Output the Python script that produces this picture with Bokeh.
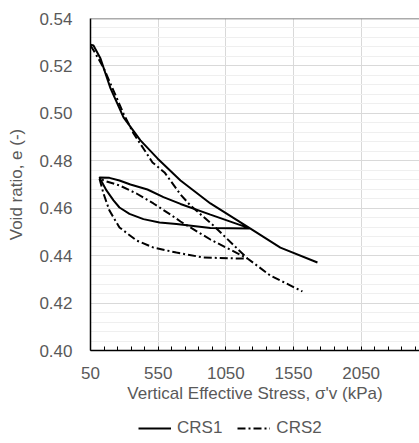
from bokeh.plotting import figure
from bokeh.layouts import column
from bokeh.models import FixedTicker, Legend, LegendItem, Range1d, CustomJSTickFormatter, Span
from bokeh.embed import file_html
from bokeh.resources import INLINE

# ---- data (stress kPa, void ratio) ----
crs1_stress = [50, 72, 124, 198, 294, 419, 545, 715, 936, 1232,
               936, 685, 560, 441, 338, 264, 220, 168, 116,
               190, 264, 345, 471, 589, 715, 936, 1232,
               1453, 1727]
crs1_void = [0.5290, 0.5286, 0.5231, 0.5105, 0.4983, 0.4886, 0.4810, 0.4717, 0.4620, 0.4514,
             0.4517, 0.4533, 0.4540, 0.4554, 0.4576, 0.4603, 0.4633, 0.4675, 0.4730,
             0.4728, 0.4717, 0.4700, 0.4679, 0.4647, 0.4618, 0.4573, 0.4514,
             0.4434, 0.4371]

crs2_stress = [50, 87, 146, 220, 294, 368, 441, 508, 597, 715, 789, 958, 1210,
               1136, 885, 685, 515, 390, 264, 190, 146, 116,
               168, 264, 390, 515, 641, 715, 936, 1210,
               1379, 1616]
crs2_void = [0.5286, 0.5252, 0.5193, 0.5096, 0.4999, 0.4915, 0.4852, 0.4793, 0.4751, 0.4658, 0.4611, 0.4527, 0.4388,
             0.4388, 0.4392, 0.4413, 0.4434, 0.4464, 0.4519, 0.4590, 0.4662, 0.4725,
             0.4713, 0.4696, 0.4662, 0.4620, 0.4573, 0.4544, 0.4468, 0.4388,
             0.4316, 0.4249]

x_ticks = [50, 550, 1050, 1550, 2050, 2550]
x_minor = [v for v in range(150, 2550, 100) if (v - 50) % 500 != 0]
y_ticks = [0.40, 0.42, 0.44, 0.46, 0.48, 0.50, 0.52, 0.54]
y_minor = [round(0.40 + 0.004 * i, 3) for i in range(36) if i % 5 != 0]

series_names = ["CRS1", "CRS2"]

FONT = "Liberation Sans"
TXT = "#595959"
FS = "17px"
DASHDOT = "8 3 2 3"

p = figure(width=419, height=415, output_backend="svg", toolbar_location=None,
           x_range=Range1d(50, 2481), y_range=Range1d(0.40, 0.54),
           min_border_left=90, min_border_right=0, min_border_top=18, min_border_bottom=65)

p.outline_line_color = None
p.add_layout(Span(location=y_ticks[-1], dimension="width", line_color="#595959", line_width=1.5))

p.xaxis.ticker = FixedTicker(ticks=x_ticks, minor_ticks=x_minor)
p.yaxis.ticker = FixedTicker(ticks=y_ticks, minor_ticks=y_minor)
p.yaxis.formatter = CustomJSTickFormatter(code="return tick.toFixed(2);")

for ax in (p.xaxis, p.yaxis):
    ax.axis_line_color = "black"
    ax.axis_line_width = 1.5
    ax.major_label_text_font = FONT
    ax.major_label_text_font_size = FS
    ax.major_label_text_color = TXT
    ax.axis_label_text_font = FONT
    ax.axis_label_text_font_size = FS
    ax.axis_label_text_color = TXT
    ax.axis_label_text_font_style = "normal"

p.xaxis.major_tick_in = 4
p.xaxis.major_tick_out = 0
p.xaxis.minor_tick_in = 4
p.xaxis.minor_tick_out = 0
p.xaxis.major_tick_line_color = "black"
p.xaxis.minor_tick_line_color = "black"
p.xaxis.major_label_standoff = 16
p.xaxis.axis_label = "Vertical Effective Stress, σ'v (kPa)"
p.xaxis.axis_label_standoff = 2

p.yaxis.major_tick_line_color = None
p.yaxis.minor_tick_line_color = None
p.yaxis.major_tick_out = 0
p.yaxis.major_label_standoff = 14
p.yaxis.axis_label = "Void ratio, e (-)"
p.yaxis.axis_label_standoff = 10

p.xgrid.grid_line_color = "#d9d9d9"
p.xgrid.minor_grid_line_color = None
p.ygrid.grid_line_color = "#d9d9d9"
p.ygrid.minor_grid_line_color = "#efefef"

p.line(crs1_stress, crs1_void, line_color="black", line_width=2)
p.line(crs2_stress, crs2_void, line_color="black", line_width=2, line_dash=DASHDOT)

# legend strip below the chart (keys drawn from off-screen proxy lines)
lg = figure(width=419, height=28, output_backend="svg", toolbar_location=None,
            x_axis_location=None, y_axis_location=None,
            x_range=Range1d(0, 1), y_range=Range1d(0, 1),
            min_border_left=0, min_border_right=0, min_border_top=0, min_border_bottom=0)
lg.grid.visible = False
lg.outline_line_color = None
k1 = lg.line([5, 6], [5, 6], line_color="black", line_width=2)
k2 = lg.line([5, 6], [5, 6], line_color="black", line_width=2, line_dash=DASHDOT)
legend = Legend(items=[LegendItem(label=series_names[0], renderers=[k1]),
                       LegendItem(label=series_names[1], renderers=[k2])],
                orientation="horizontal", location=(48, 5),
                padding=0, margin=0, spacing=15, glyph_width=33, glyph_height=18,
                label_standoff=6, border_line_color=None, background_fill_alpha=0,
                label_text_font=FONT, label_text_font_size=FS, label_text_color=TXT)
lg.add_layout(legend, "center")

open("out.html", "w").write(file_html(column(p, lg, spacing=0), INLINE))
